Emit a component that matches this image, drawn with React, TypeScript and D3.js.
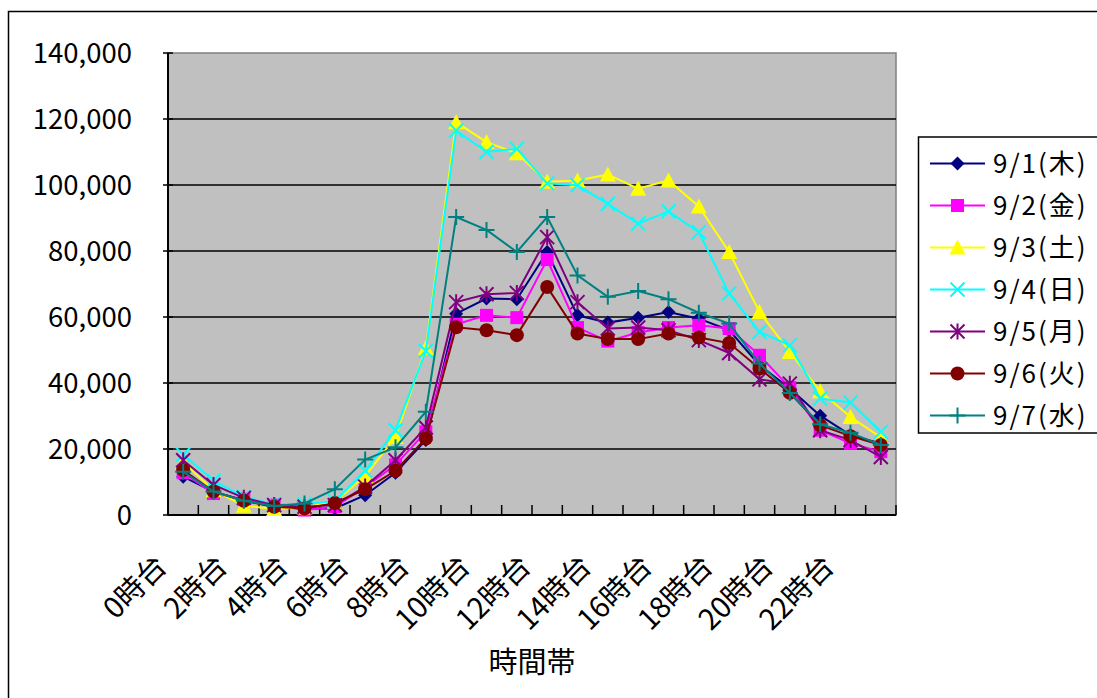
import React from "react";
import * as d3 from "d3";

const hours = Array.from({ length: 24 }, (_, i) => `${i}時台`);
const yTicks = [0, 20000, 40000, 60000, 80000, 100000, 120000, 140000];
const seriesNames = ["9/1(木)", "9/2(金)", "9/3(土)", "9/4(日)", "9/5(月)", "9/6(火)", "9/7(水)"];

const s91 = [11600, 7000, 4500, 2500, 2000, 2000, 6000, 12800, 22700, 61000, 65600, 65400, 79700, 60500, 58300, 59800, 61500, 59500, 56000, 45400, 38300, 30100, 24200, 21700];
const s92 = [12800, 6500, 4800, 3000, 1500, 2500, 8400, 15200, 25200, 57800, 60500, 59800, 77400, 56800, 52700, 55300, 56800, 57500, 56500, 48400, 38600, 25700, 21700, 19200];
const s93 = [16000, 7500, 2800, 1800, 2300, 4000, 11800, 23600, 50600, 119000, 113000, 109600, 101000, 101400, 103200, 98900, 101400, 93500, 79700, 61500, 49400, 37500, 29700, 23500];
const s94 = [18300, 10400, 5500, 3300, 3300, 4200, 13400, 25700, 49700, 116500, 110000, 111000, 100500, 99900, 94300, 88300, 92000, 85700, 67100, 55500, 51400, 35300, 34100, 25200];
const s95 = [16600, 9100, 5200, 3000, 2500, 3000, 8600, 16600, 26500, 64500, 66900, 67300, 84200, 64500, 56500, 56800, 56000, 53000, 49100, 41100, 39800, 25700, 22700, 17600];
const s96 = [13600, 7100, 4300, 2500, 2000, 3600, 7800, 13400, 23200, 56900, 56000, 54500, 69100, 55000, 53300, 53300, 55000, 53800, 52100, 44400, 37000, 27200, 23900, 21200];
const s97 = [13100, 7100, 4300, 2700, 3500, 7800, 16800, 20500, 31300, 90300, 86400, 79700, 90300, 72600, 66100, 67900, 65400, 61300, 58000, 45900, 37000, 27500, 24900, 21200];

const seriesValues = [s91, s92, s93, s94, s95, s96, s97];
const colors = ["#000080", "#FF00FF", "#FFFF00", "#00FFFF", "#800080", "#800000", "#008080"];
const markers = ["diamond", "square", "triangle", "x", "star", "circle", "plus"];

const FONT = "'Noto Sans CJK JP', 'Noto Sans', sans-serif";

function Marker({ type, color, x, y }: { type: string; color: string; x: number; y: number }) {
  const r = 7;
  const t = `translate(${x},${y})`;
  switch (type) {
    case "diamond":
      return <path transform={t} d={`M0,${-r}L${r},0L0,${r}L${-r},0Z`} fill={color} />;
    case "square":
      return <rect transform={t} x={-6.5} y={-6.5} width={13} height={13} fill={color} />;
    case "triangle":
      return <path transform={t} d={`M0,${-r - 1}L${r + 1},${r}L${-r - 1},${r}Z`} fill={color} />;
    case "x":
      return (
        <path transform={t} d={`M${-r},${-r}L${r},${r}M${-r},${r}L${r},${-r}`} stroke={color} strokeWidth={2} fill="none" />
      );
    case "star":
      return (
        <path
          transform={t}
          d={`M${-r},${-r}L${r},${r}M${-r},${r}L${r},${-r}M0,${-r - 1}L0,${r + 1}`}
          stroke={color}
          strokeWidth={2}
          fill="none"
        />
      );
    case "circle":
      return <circle cx={x} cy={y} r={r} fill={color} />;
    case "plus":
      return (
        <path transform={t} d={`M${-r - 1},0L${r + 1},0M0,${-r - 1}L0,${r + 1}`} stroke={color} strokeWidth={2} fill="none" />
      );
    default:
      return null;
  }
}

export default function App() {
  const W = 1097;
  const H = 698;
  const x0 = 168;
  const x1 = 896;
  const y0 = 53;
  const y1 = 515;

  const x = d3.scaleBand<string>().domain(hours).range([x0, x1]).padding(0);
  const y = d3.scaleLinear().domain([0, 140000]).range([y1, y0]);
  const cx = (h: string) => (x(h) as number) + x.bandwidth() / 2;

  const line = d3
    .line<number>()
    .x((_, i) => cx(hours[i]))
    .y((v) => y(v));

  const fmt = d3.format(",");

  return (
    <svg
      width={W}
      height={H}
      style={{ position: "absolute", left: 0, top: 0, background: "#fff" }}
      fontFamily={FONT}
    >
      <rect x={8.5} y={11.5} width={W + 10} height={H + 10} fill="#fff" stroke="#000" strokeWidth={1.5} />

      {/* plot area */}
      <rect x={x0} y={y0} width={x1 - x0} height={y1 - y0} fill="#C0C0C0" stroke="#808080" strokeWidth={1.5} />

      {/* gridlines */}
      {yTicks.slice(1, -1).map((t) => (
        <line key={t} x1={x0} x2={x1} y1={y(t)} y2={y(t)} stroke="#000" strokeWidth={1.5} />
      ))}

      {/* y ticks & labels */}
      {yTicks.map((t) => (
        <g key={t}>
          <line x1={x0 - 5} x2={x0 + 5} y1={y(t)} y2={y(t)} stroke="#000" strokeWidth={1.5} />
          <text x={132} y={y(t)} dy="0.36em" textAnchor="end" fontSize={27.5} fill="#000">
            {fmt(t)}
          </text>
        </g>
      ))}

      {/* axes */}
      <line x1={x0} x2={x0} y1={y0} y2={y1} stroke="#000" strokeWidth={2} />
      <line x1={x0} x2={x1} y1={y1} y2={y1} stroke="#000" strokeWidth={2} />

      {/* x ticks (inside) */}
      {hours.map((h) => (
        <line key={h} x1={x(h) as number} x2={x(h) as number} y1={y1} y2={y1 - 10} stroke="#000" strokeWidth={1.5} />
      ))}
      <line x1={x1} x2={x1} y1={y1} y2={y1 - 10} stroke="#000" strokeWidth={1.5} />

      {/* x labels */}
      {hours
        .filter((_, i) => i % 2 === 0)
        .map((h) => (
          <text
            key={h}
            transform={`translate(${cx(h) - 15},${568}) rotate(-45)`}
            textAnchor="end"
            fontSize={29}
            fill="#000"
          >
            {h}
          </text>
        ))}

      <text x={(x0 + x1) / 2} y={673} textAnchor="middle" fontSize={29} fill="#000">
        時間帯
      </text>

      {/* series */}
      {seriesValues.map((vals, si) => (
        <g key={si}>
          <path d={line(vals) || ""} fill="none" stroke={colors[si]} strokeWidth={2} />
          {vals.map((v, i) => (
            <Marker key={i} type={markers[si]} color={colors[si]} x={cx(hours[i])} y={y(v)} />
          ))}
        </g>
      ))}

      {/* legend */}
      <rect x={918.5} y={137} width={200} height={296} fill="#fff" stroke="#000" strokeWidth={1.5} />
      {seriesNames.map((n, i) => {
        const ly = 163.5 + i * 42;
        return (
          <g key={n}>
            <line x1={930} x2={985} y1={ly} y2={ly} stroke={colors[i]} strokeWidth={2} />
            <Marker type={markers[i]} color={colors[i]} x={957.5} y={ly} />
            <text x={993} y={ly} dy="0.36em" fontSize={26} letterSpacing={2} fill="#000">
              {n}
            </text>
          </g>
        );
      })}
    </svg>
  );
}
